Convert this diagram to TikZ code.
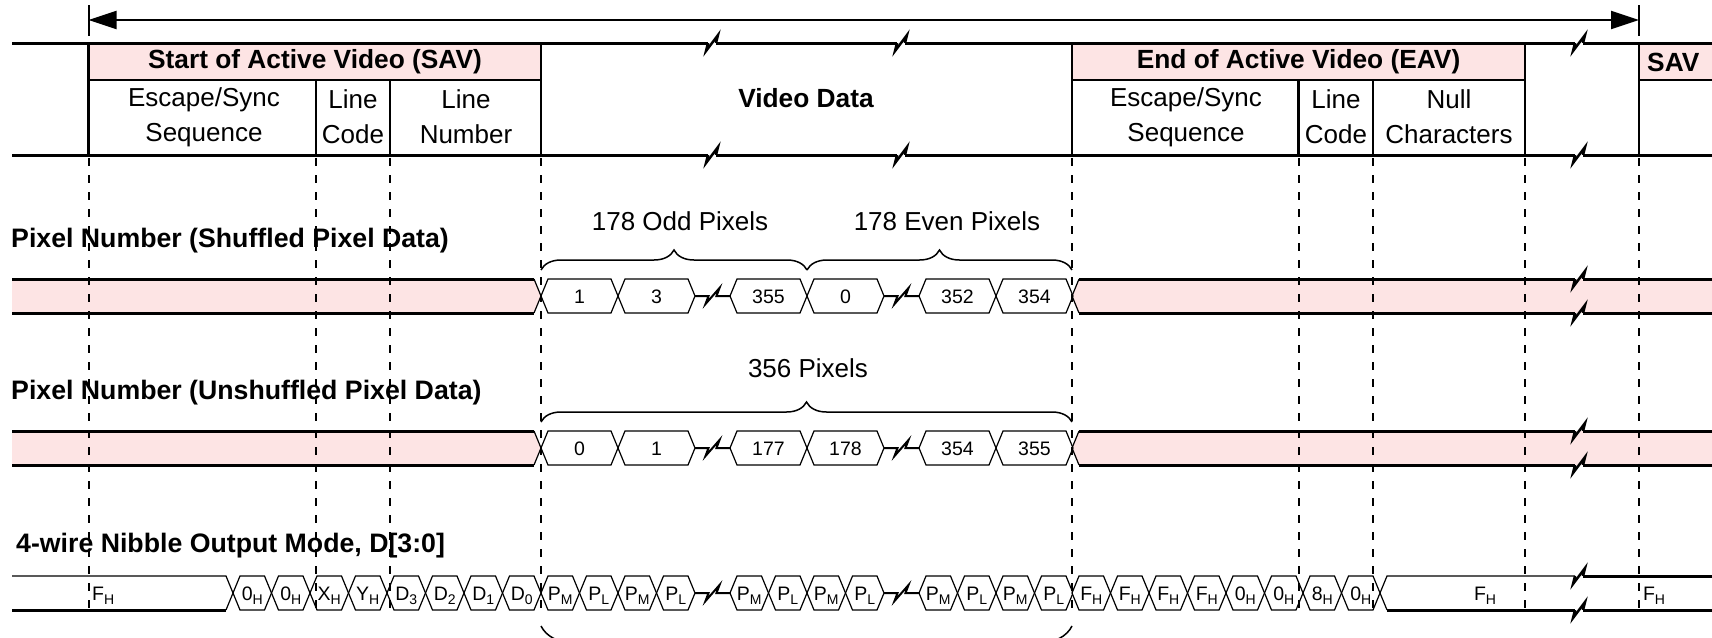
\documentclass[tikz,border=0pt]{standalone}
\usepackage{fontspec}
\setmainfont{Liberation Sans}
\usetikzlibrary{arrows.meta,decorations.pathreplacing}
\definecolor{vidpink}{RGB}{253,228,228}
\newcommand{\nb}[2]{#1\raisebox{-4pt}{\fontsize{14}{14}\selectfont #2}}

\begin{document}
\begin{tikzpicture}[x=1pt,y=-1pt,
  every node/.style={inner sep=0pt},
  hdr/.style={font=\bfseries\fontsize{26.3}{30}\selectfont},
  sub/.style={align=center,font=\fontsize{26}{35}\selectfont},
  lbl/.style={anchor=west,font=\bfseries\fontsize{26.7}{30}\selectfont},
  note/.style={font=\fontsize{26}{30}\selectfont},
  celltxt/.style={font=\fontsize{19.5}{19.5}\selectfont},
  frame/.style={line width=3pt},
  sep/.style={line width=2.5pt},
  bus/.style={line width=3pt},
  cell/.style={line width=1.2pt,fill=white},
  guide/.style={line width=2pt,dash pattern=on 8pt off 9pt},
  tie/.style={decorate,decoration={brace,amplitude=20pt},line width=1.5pt},
  gapmark/.pic={\draw[line width=2pt] (-17.5,0) -- (-4,0) -- (-7,8) -- (7,-8) -- (4,0) -- (17.5,0);},
  cutmark/.pic={\draw[line width=2.5pt] (-4,0) -- (-6,8) -- (6,-8) -- (4,0);}
]
\useasboundingbox (0,0) rectangle (1712,637);

\coordinate (al) at (88.5,20);
\coordinate (ar) at (1639,20);
\draw[line width=2pt,{Triangle[length=28pt,width=18pt]}-{Triangle[length=28pt,width=18pt]}] (al) -- (ar);
\draw[line width=2pt] (88.5,5) -- (88.5,36);
\draw[line width=2pt] (1639,5) -- (1639,36);

\fill[vidpink] (88.5,43) rectangle (541,80);
\fill[vidpink] (1072,43) rectangle (1525,80);
\fill[vidpink] (1639,43) rectangle (1712,80);
\foreach \y in {43,155}{
  \draw[frame] (12,\y) -- (708,\y);
  \draw[frame] (716,\y) -- (897,\y);
  \draw[frame] (905,\y) -- (1575,\y);
  \draw[frame] (1583,\y) -- (1712,\y);
  \pic at (712,\y) {cutmark};
  \pic at (901,\y) {cutmark};
  \pic at (1579,\y) {cutmark};
}
\foreach \x in {88.5,541,1072,1525,1639} \draw[sep] (\x,43) -- (\x,155);
\foreach \x in {316,390,1298.5,1373} \draw[sep] (\x,80) -- (\x,155);
\draw[sep] (88.5,80) -- (541,80);
\draw[sep] (1072,80) -- (1525,80);
\draw[sep] (1639,80) -- (1712,80);

\node[hdr] (sav) at (315,62) {Start of Active Video (SAV)};
\node[sub] (savesc) at (204,117) {Escape/Sync\\Sequence};
\node[sub] (savcode) at (353,117) {Line\\Code};
\node[sub] (savnum) at (466,117) {Line\\Number};
\node[hdr] (vid) at (806,98) {Video Data};
\node[hdr] (eav) at (1298.5,62) {End of Active Video (EAV)};
\node[sub] (eavesc) at (1186,117) {Escape/Sync\\Sequence};
\node[sub] (eavcode) at (1336,117) {Line\\Code};
\node[sub] (eavnull) at (1449,117) {Null\\Characters};
\node[hdr,anchor=west] (savnext) at (1647,62) {SAV};

\node[lbl] (shuf) at (11,241) {Pixel Number (Shuffled Pixel Data)};
\node[lbl] (unshuf) at (11,393) {Pixel Number (Unshuffled Pixel Data)};
\node[lbl] (nibble) at (16,546) {4-wire Nibble Output Mode, D[3:0]};

\foreach \yc in {296,448}{
  \fill[vidpink] (12,\yc-17) -- (534,\yc-17) -- (541,\yc) -- (534,\yc+17) -- (12,\yc+17) -- cycle;
  \draw[bus] (12,\yc-17) -- (534,\yc-17);
  \draw[bus] (12,\yc+17) -- (534,\yc+17);
  \draw[line width=1.2pt] (534,\yc-17) -- (541,\yc) -- (534,\yc+17);
  \fill[vidpink] (1712,\yc-17) -- (1079,\yc-17) -- (1072,\yc) -- (1079,\yc+17) -- (1712,\yc+17) -- cycle;
  \draw[bus] (1079,\yc-17) -- (1575,\yc-17);
  \draw[bus] (1583,\yc-17) -- (1712,\yc-17);
  \draw[bus] (1079,\yc+17) -- (1575,\yc+17);
  \draw[bus] (1583,\yc+17) -- (1712,\yc+17);
  \draw[line width=1.2pt] (1079,\yc-17) -- (1072,\yc) -- (1079,\yc+17);
  \pic at (1579,\yc-17) {cutmark};
  \pic at (1579,\yc+17) {cutmark};
  \pic at (712.5,\yc) {gapmark};
  \pic at (901.5,\yc) {gapmark};
}

\foreach \xa/\lab [count=\i] in {541/1,618/3,730/355,807/0,919/352,996/354}{
  \draw[cell] (\xa,296) -- ++(7,-17) -- ++(63,0) -- ++(7,17) -- ++(-7,17) -- ++(-63,0) -- cycle;
  \node[celltxt] (shuf\i) at (\xa+38.5,297) {\lab};
}
\foreach \xa/\lab [count=\i] in {541/0,618/1,730/177,807/178,919/354,996/355}{
  \draw[cell] (\xa,448) -- ++(7,-17) -- ++(63,0) -- ++(7,17) -- ++(-7,17) -- ++(-63,0) -- cycle;
  \node[celltxt] (unshuf\i) at (\xa+38.5,449) {\lab};
}

\node[note] (odd) at (680,221) {178 Odd Pixels};
\node[note] (even) at (947,221) {178 Even Pixels};
\node[note] (all) at (808,368) {356 Pixels};
\draw[tie] (541,270) -- (807,270);
\draw[tie] (807,270) -- (1072,270);
\draw[tie] (541,422) -- (1072,422);
\draw[tie,decoration={amplitude=34pt}] (1072,626) -- (541,626);

\draw[line width=1.2pt] (12,576) -- (226,576) -- (233,593) -- (226,610);
\draw[bus] (12,610) -- (226,610);
\node[celltxt,anchor=west] (nibf1) at (92,596) {\nb{F}{H}};
\foreach \m/\s [count=\i from 0] in {0/H,0/H,X/H,Y/H,D/3,D/2,D/1,D/0}{
  \draw[cell] (233+38.5*\i,593) -- ++(7,-17) -- ++(24.5,0) -- ++(7,17) -- ++(-7,17) -- ++(-24.5,0) -- cycle;
  \node[celltxt] (nibs\i) at (233+38.5*\i+19.25,596) {\nb{\m}{\s}};
}
\foreach \xs in {541,730,919}{
  \foreach \m/\s [count=\i from 0] in {P/M,P/L,P/M,P/L}{
    \draw[cell] (\xs+38.5*\i,593) -- ++(7,-17) -- ++(24.5,0) -- ++(7,17) -- ++(-7,17) -- ++(-24.5,0) -- cycle;
    \node[celltxt] (nibp\xs\i) at (\xs+38.5*\i+19.25,596) {\nb{\m}{\s}};
  }
}
\pic at (712.5,593) {gapmark};
\pic at (901.5,593) {gapmark};
\foreach \m/\s [count=\i from 0] in {F/H,F/H,F/H,F/H,0/H,0/H,8/H,0/H}{
  \draw[cell] (1072+38.5*\i,593) -- ++(7,-17) -- ++(24.5,0) -- ++(7,17) -- ++(-7,17) -- ++(-24.5,0) -- cycle;
  \node[celltxt] (nibe\i) at (1072+38.5*\i+19.25,596) {\nb{\m}{\s}};
}
\draw[line width=1.2pt] (1575,576) -- (1387,576) -- (1380,593) -- (1387,610);
\draw[bus] (1387,610) -- (1575,610);
\draw[bus] (1583,576) -- (1712,576);
\draw[bus] (1583,610) -- (1712,610);
\pic at (1579,576) {cutmark};
\pic at (1579,610) {cutmark};
\node[celltxt] (nibf2) at (1485,596) {\nb{F}{H}};
\node[celltxt] (nibf3) at (1654,596) {\nb{F}{H}};

\foreach \x in {88.5,316,390,541,1072,1298.5,1373,1525,1639} \draw[guide] (\x,158) -- (\x,616);
\end{tikzpicture}
\end{document}
